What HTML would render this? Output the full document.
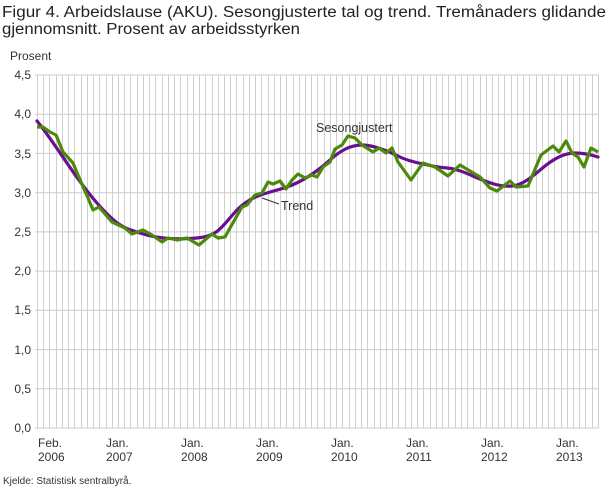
<!DOCTYPE html>
<html><head><meta charset="utf-8"><style>
body{margin:0;background:#fff;width:610px;height:488px;overflow:hidden;font-family:"Liberation Sans",sans-serif;}
.g{position:absolute;top:75px;width:1px;height:353px;background:#d0d0d0;}
</style></head><body>
<div style="position:absolute;left:0;top:0;width:610px;height:488px;">
<div class="g" style="left:37px"></div><div class="g" style="left:43px"></div><div class="g" style="left:49px"></div><div class="g" style="left:56px"></div><div class="g" style="left:62px"></div><div class="g" style="left:68px"></div><div class="g" style="left:74px"></div><div class="g" style="left:81px"></div><div class="g" style="left:87px"></div><div class="g" style="left:93px"></div><div class="g" style="left:99px"></div><div class="g" style="left:106px"></div><div class="g" style="left:112px"></div><div class="g" style="left:118px"></div><div class="g" style="left:124px"></div><div class="g" style="left:130px"></div><div class="g" style="left:137px"></div><div class="g" style="left:143px"></div><div class="g" style="left:149px"></div><div class="g" style="left:155px"></div><div class="g" style="left:162px"></div><div class="g" style="left:168px"></div><div class="g" style="left:174px"></div><div class="g" style="left:180px"></div><div class="g" style="left:187px"></div><div class="g" style="left:193px"></div><div class="g" style="left:199px"></div><div class="g" style="left:205px"></div><div class="g" style="left:212px"></div><div class="g" style="left:218px"></div><div class="g" style="left:224px"></div><div class="g" style="left:230px"></div><div class="g" style="left:236px"></div><div class="g" style="left:243px"></div><div class="g" style="left:249px"></div><div class="g" style="left:255px"></div><div class="g" style="left:261px"></div><div class="g" style="left:268px"></div><div class="g" style="left:274px"></div><div class="g" style="left:280px"></div><div class="g" style="left:286px"></div><div class="g" style="left:293px"></div><div class="g" style="left:299px"></div><div class="g" style="left:305px"></div><div class="g" style="left:311px"></div><div class="g" style="left:317px"></div><div class="g" style="left:324px"></div><div class="g" style="left:330px"></div><div class="g" style="left:336px"></div><div class="g" style="left:342px"></div><div class="g" style="left:349px"></div><div class="g" style="left:355px"></div><div class="g" style="left:361px"></div><div class="g" style="left:367px"></div><div class="g" style="left:374px"></div><div class="g" style="left:380px"></div><div class="g" style="left:386px"></div><div class="g" style="left:392px"></div><div class="g" style="left:398px"></div><div class="g" style="left:405px"></div><div class="g" style="left:411px"></div><div class="g" style="left:417px"></div><div class="g" style="left:423px"></div><div class="g" style="left:430px"></div><div class="g" style="left:436px"></div><div class="g" style="left:442px"></div><div class="g" style="left:448px"></div><div class="g" style="left:455px"></div><div class="g" style="left:461px"></div><div class="g" style="left:467px"></div><div class="g" style="left:473px"></div><div class="g" style="left:480px"></div><div class="g" style="left:486px"></div><div class="g" style="left:492px"></div><div class="g" style="left:498px"></div><div class="g" style="left:504px"></div><div class="g" style="left:511px"></div><div class="g" style="left:517px"></div><div class="g" style="left:523px"></div><div class="g" style="left:529px"></div><div class="g" style="left:536px"></div><div class="g" style="left:542px"></div><div class="g" style="left:548px"></div><div class="g" style="left:554px"></div><div class="g" style="left:561px"></div><div class="g" style="left:567px"></div><div class="g" style="left:573px"></div><div class="g" style="left:579px"></div><div class="g" style="left:585px"></div><div class="g" style="left:592px"></div><div class="g" style="left:598px"></div>
</div>
<svg width="610" height="488" xmlns="http://www.w3.org/2000/svg" font-family="Liberation Sans, sans-serif" style="position:absolute;left:0;top:0">
<text x="2" y="17" font-size="15.5" fill="#222" textLength="604" lengthAdjust="spacingAndGlyphs">Figur 4.  Arbeidslause (AKU). Sesongjusterte tal og trend. Tremånaders glidande</text>
<text x="2" y="34" font-size="15.5" fill="#222" textLength="298" lengthAdjust="spacingAndGlyphs">gjennomsnitt. Prosent av arbeidsstyrken</text>
<text x="10" y="60" font-size="12" fill="#333">Prosent</text>
<g stroke="#cccccc" stroke-width="1">
<line x1="35" y1="75" x2="599" y2="75"/><line x1="35" y1="114.2" x2="599" y2="114.2"/>
<line x1="35" y1="153.4" x2="599" y2="153.4"/><line x1="35" y1="192.7" x2="599" y2="192.7"/>
<line x1="35" y1="231.9" x2="599" y2="231.9"/><line x1="35" y1="271.1" x2="599" y2="271.1"/>
<line x1="35" y1="310.3" x2="599" y2="310.3"/><line x1="35" y1="349.6" x2="599" y2="349.6"/>
<line x1="35" y1="388.8" x2="599" y2="388.8"/><line x1="35" y1="428" x2="599" y2="428"/>
</g>
<g font-size="12" fill="#333" text-anchor="end">
<text x="31" y="79">4,5</text><text x="31" y="118">4,0</text><text x="31" y="158">3,5</text>
<text x="31" y="197">3,0</text><text x="31" y="236">2,5</text><text x="31" y="275">2,0</text>
<text x="31" y="314">1,5</text><text x="31" y="354">1,0</text><text x="31" y="393">0,5</text>
<text x="31" y="432">0,0</text>
</g>
<g font-size="12" fill="#333">
<text x="38" y="447">Feb.</text><text x="38" y="461">2006</text>
<text x="106" y="447">Jan.</text><text x="106" y="461">2007</text>
<text x="181" y="447">Jan.</text><text x="181" y="461">2008</text>
<text x="256" y="447">Jan.</text><text x="256" y="461">2009</text>
<text x="331" y="447">Jan.</text><text x="331" y="461">2010</text>
<text x="406" y="447">Jan.</text><text x="406" y="461">2011</text>
<text x="481" y="447">Jan.</text><text x="481" y="461">2012</text>
<text x="556" y="447">Jan.</text><text x="556" y="461">2013</text>
</g>
<text x="3" y="484" font-size="10" fill="#333">Kjelde: Statistisk sentralbyrå.</text>
<path fill="none" stroke="#6a0f8e" stroke-width="3.2" stroke-linejoin="round" stroke-linecap="round" d="M37,121 C55,143 75,178 97,203 S125,228 140,233 S175,240 197,238 S222,226 237,210 S270,193 287,187 S320,169 330,160 S350,145 362,145 S390,152 400,157 S435,167 447,168 S470,175 480,179 S500,187 512,186 S535,174 545,166 S565,153 575,153 S595,156 598,157"/>
<polyline fill="none" stroke="#4b8a0a" stroke-width="3.2" stroke-linejoin="round" points="37,127 43,127 50,132 56,135 63,152 73,163 78,175 88,198 93,210 99,207 112,222 125,228 132,234 143,230 152,235 162,242 168,238 177,240 187,238 199,245 212,234 218,238 225,237 230,228 242,207 247,205 255,195 262,193 268,182 273,184 280,181 286,189 292,180 298,174 305,178 312,175 317,177 323,167 330,162 335,149 342,145 348,136 355,138 362,145 373,152 379,148 386,153 392,148 398,162 411,180 423,163 435,167 448,176 460,165 480,177 490,188 497,191 510,181 516,187 528,186 541,155 553,146 559,152 566,141 572,153 578,157 584,167 591,148 598,152"/>
<text x="316" y="132" font-size="12.5" fill="#333">Sesongjustert</text>
<line x1="262" y1="198" x2="279" y2="204" stroke="#333" stroke-width="1"/>
<text x="281" y="210" font-size="12.5" fill="#333">Trend</text>
</svg>
</body></html>
